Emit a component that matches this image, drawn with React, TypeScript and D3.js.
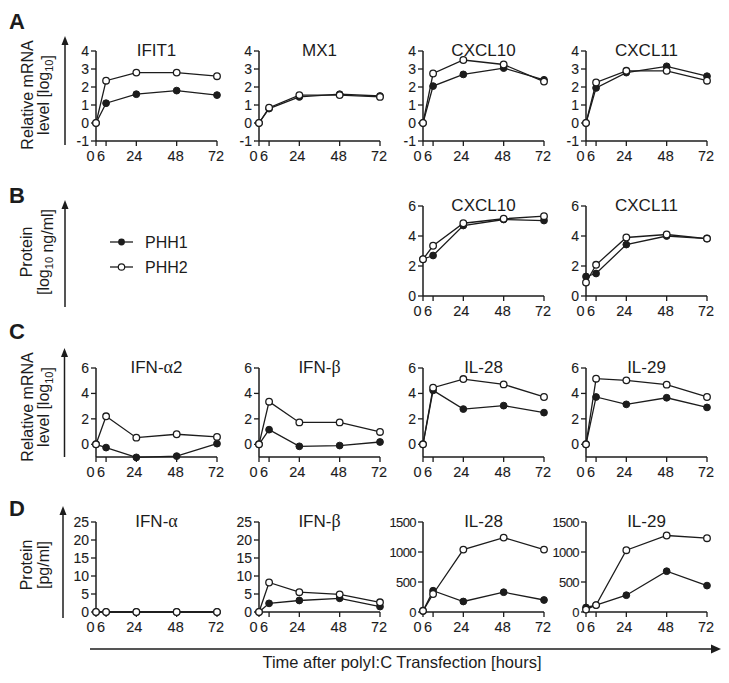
import React from "react";
import * as d3 from "d3";

const times = [0, 6, 24, 48, 72];
const xTickLabels = ["0", "6", "24", "48", "72"];

// Row A: relative mRNA [log10]
const ifit1PHH1 = [0, 1.1, 1.6, 1.8, 1.55];
const ifit1PHH2 = [0, 2.35, 2.8, 2.8, 2.6];
const mx1PHH1 = [0, 0.8, 1.45, 1.6, 1.5];
const mx1PHH2 = [0, 0.85, 1.55, 1.55, 1.45];
const cxcl10mPHH1 = [0, 2.05, 2.7, 3.05, 2.4];
const cxcl10mPHH2 = [0, 2.75, 3.5, 3.25, 2.3];
const cxcl11mPHH1 = [0, 1.95, 2.8, 3.15, 2.6];
const cxcl11mPHH2 = [0, 2.25, 2.9, 2.9, 2.35];

// Row B: protein [log10 ng/ml]
const cxcl10pPHH1 = [2.45, 2.7, 4.7, 5.1, 5.03];
const cxcl10pPHH2 = [2.45, 3.35, 4.85, 5.15, 5.32];
const cxcl11pPHH1 = [1.3, 1.5, 3.43, 4.0, 3.83];
const cxcl11pPHH2 = [0.9, 2.08, 3.9, 4.1, 3.83];

// Row C: relative mRNA [log10]
const ifna2PHH1 = [0, -0.26, -1.03, -0.93, 0.05];
const ifna2PHH2 = [0, 2.2, 0.52, 0.79, 0.58];
const ifnbmPHH1 = [0, 1.15, -0.16, -0.1, 0.18];
const ifnbmPHH2 = [0, 3.35, 1.72, 1.72, 0.97];
const il28mPHH1 = [0, 4.24, 2.77, 3.04, 2.49];
const il28mPHH2 = [0, 4.45, 5.13, 4.71, 3.72];
const il29mPHH1 = [0, 3.72, 3.14, 3.66, 2.9];
const il29mPHH2 = [0, 5.16, 5.03, 4.69, 3.72];

// Row D: protein [pg/ml]
const ifnaPPHH1 = [0, 0, 0, 0, 0];
const ifnaPPHH2 = [0, 0, 0, 0, 0];
const ifnbPPHH1 = [0, 2.4, 3.2, 3.8, 1.5];
const ifnbPPHH2 = [0, 8.2, 5.5, 4.9, 2.7];
const il28pPHH1 = [15, 355, 175, 330, 200];
const il28pPHH2 = [20, 300, 1040, 1240, 1040];
const il29pPHH1 = [75, 115, 280, 680, 440];
const il29pPHH2 = [40, 115, 1030, 1275, 1230];

const ticksA = [-1, 0, 1, 2, 3, 4];
const ticksB = [0, 2, 4, 6];
const ticksC = [0, 2, 4, 6];
const ticksD1 = [0, 5, 10, 15, 20, 25];
const ticksD2 = [0, 500, 1000, 1500];

type Panel = {
  row: number;
  col: number;
  title: string;
  greek?: string;
  p1: number[];
  p2: number[];
  domain: [number, number];
  ticks: number[];
  small?: boolean;
};

const panels: Panel[] = [
  { row: 0, col: 0, title: "IFIT1", p1: ifit1PHH1, p2: ifit1PHH2, domain: [-1, 4], ticks: ticksA },
  { row: 0, col: 1, title: "MX1", p1: mx1PHH1, p2: mx1PHH2, domain: [-1, 4], ticks: ticksA },
  { row: 0, col: 2, title: "CXCL10", p1: cxcl10mPHH1, p2: cxcl10mPHH2, domain: [-1, 4], ticks: ticksA },
  { row: 0, col: 3, title: "CXCL11", p1: cxcl11mPHH1, p2: cxcl11mPHH2, domain: [-1, 4], ticks: ticksA },
  { row: 1, col: 2, title: "CXCL10", p1: cxcl10pPHH1, p2: cxcl10pPHH2, domain: [0, 6], ticks: ticksB },
  { row: 1, col: 3, title: "CXCL11", p1: cxcl11pPHH1, p2: cxcl11pPHH2, domain: [0, 6], ticks: ticksB },
  { row: 2, col: 0, title: "IFN-", greek: "α2", p1: ifna2PHH1, p2: ifna2PHH2, domain: [-1, 6], ticks: ticksC },
  { row: 2, col: 1, title: "IFN-", greek: "β", p1: ifnbmPHH1, p2: ifnbmPHH2, domain: [-1, 6], ticks: ticksC },
  { row: 2, col: 2, title: "IL-28", p1: il28mPHH1, p2: il28mPHH2, domain: [-1, 6], ticks: ticksC },
  { row: 2, col: 3, title: "IL-29", p1: il29mPHH1, p2: il29mPHH2, domain: [-1, 6], ticks: ticksC },
  { row: 3, col: 0, title: "IFN-", greek: "α", p1: ifnaPPHH1, p2: ifnaPPHH2, domain: [0, 25], ticks: ticksD1 },
  { row: 3, col: 1, title: "IFN-", greek: "β", p1: ifnbPPHH1, p2: ifnbPPHH2, domain: [0, 25], ticks: ticksD1 },
  { row: 3, col: 2, title: "IL-28", p1: il28pPHH1, p2: il28pPHH2, domain: [0, 1500], ticks: ticksD2, small: true },
  { row: 3, col: 3, title: "IL-29", p1: il29pPHH1, p2: il29pPHH2, domain: [0, 1500], ticks: ticksD2, small: true },
];

const rowTop = [51, 206, 368, 522];
const rowBottom = [141, 296, 457, 612];
const colLeft = [96, 259, 423, 586];
const plotW = 121;
const INK = "#1c1c1c";
const FONT = "Liberation Sans, Arial, Helvetica, sans-serif";
const GREEK = "Liberation Serif, DejaVu Serif, serif";

function PlotPanel({ p }: { p: Panel }) {
  const x0 = colLeft[p.col];
  const top = rowTop[p.row];
  const bottom = rowBottom[p.row];
  const x = d3.scaleLinear().domain([0, 72]).range([x0, x0 + plotW]);
  const y = d3.scaleLinear().domain(p.domain).range([bottom, top]);
  const line = d3
    .line<number>()
    .x((_, i) => x(times[i]))
    .y((v) => y(v));
  const xOff = [-5.5, -5, -2, -1, -1];
  return (
    <g>
      <text
        x={x0 + plotW / 2}
        y={top + 5}
        textAnchor="middle"
        fontSize={17}
        fontFamily={FONT}
        fill={INK}
      >
        {p.title}
        {p.greek ? (
          <tspan fontFamily={GREEK} fontSize={18}>
            {p.greek.charAt(0)}
          </tspan>
        ) : null}
        {p.greek && p.greek.length > 1 ? <tspan>{p.greek.slice(1)}</tspan> : null}
      </text>
      {/* axes */}
      <line x1={x0} x2={x0} y1={bottom} y2={top} stroke={INK} strokeWidth={1.5} />
      <line x1={x0} x2={x0 + plotW} y1={bottom} y2={bottom} stroke={INK} strokeWidth={1.5} />
      {p.ticks.map((t) => (
        <g key={"y" + t}>
          <line x1={x0 - 5} x2={x0} y1={y(t)} y2={y(t)} stroke={INK} strokeWidth={1.3} />
          <text
            x={x0 - 7}
            y={y(t) + 5}
            textAnchor="end"
            fontSize={p.small ? 13 : 14}
            letterSpacing={p.small ? -0.6 : 0}
            fontFamily={FONT}
            fill={INK}
            stroke={INK}
            strokeWidth={0.1}
          >
            {t}
          </text>
        </g>
      ))}
      {times.map((t, i) => (
        <g key={"x" + t}>
          <line x1={x(t)} x2={x(t)} y1={bottom} y2={bottom + 5} stroke={INK} strokeWidth={1.3} />
          <text
            x={x(t) + xOff[i]}
            y={bottom + 20}
            textAnchor="middle"
            fontSize={14.5}
            fontFamily={FONT}
            fill={INK}
            stroke={INK}
            strokeWidth={0.1}
          >
            {xTickLabels[i]}
          </text>
        </g>
      ))}
      {/* series */}
      <path d={line(p.p1) || ""} fill="none" stroke={INK} strokeWidth={1.3} />
      <path d={line(p.p2) || ""} fill="none" stroke={INK} strokeWidth={1.3} />
      {p.p1.map((v, i) => (
        <circle key={"a" + i} cx={x(times[i])} cy={y(v)} r={3.4} fill={INK} stroke={INK} strokeWidth={1} />
      ))}
      {p.p2.map((v, i) => (
        <circle key={"b" + i} cx={x(times[i])} cy={y(v)} r={3.3} fill="#fff" stroke={INK} strokeWidth={1.3} />
      ))}
    </g>
  );
}

function VArrow({ x, y1, y2 }: { x: number; y1: number; y2: number }) {
  return (
    <g>
      <line x1={x} x2={x} y1={y1} y2={y2 + 6} stroke={INK} strokeWidth={1.5} />
      <path d={`M${x},${y2} L${x - 3.5},${y2 + 9} L${x + 3.5},${y2 + 9} Z`} fill={INK} />
    </g>
  );
}

function RotLabel({ x, y, children }: { x: number; y: number; children: React.ReactNode }) {
  return (
    <text
      transform={`translate(${x},${y}) rotate(-90)`}
      textAnchor="middle"
      fontSize={16}
      fontFamily={FONT}
      fill={INK}
    >
      {children}
    </text>
  );
}

const Sub = ({ t }: { t: string }) => (
  <>
    <tspan fontSize={11} dy={3.5}>
      {t}
    </tspan>
    <tspan dy={-3.5}></tspan>
  </>
);

export default function App() {
  return (
    <svg width={729} height={683} style={{ display: "block", position: "absolute", left: 0, top: 0 }}>
      <rect width={729} height={683} fill="#fff" />
      {/* panel letters */}
      {[
        ["A", 29],
        ["B", 203],
        ["C", 339],
        ["D", 516],
      ].map(([l, yy]) => (
        <text key={l as string} x={9} y={yy as number} fontSize={22} fontWeight="bold" fontFamily={FONT} fill={INK}>
          {l}
        </text>
      ))}

      {/* y-axis labels */}
      <VArrow x={65} y1={145} y2={36} />
      <RotLabel x={33} y={95}>Relative mRNA</RotLabel>
      <RotLabel x={49} y={95}>
        level [log<Sub t="10" />]
      </RotLabel>

      <VArrow x={65} y1={307} y2={200} />
      <RotLabel x={32} y={252}>Protein</RotLabel>
      <RotLabel x={49} y={252}>
        [log<Sub t="10" /> ng/ml]
      </RotLabel>

      <VArrow x={64.5} y1={457} y2={348} />
      <RotLabel x={33} y={407}>Relative mRNA</RotLabel>
      <RotLabel x={49} y={407}>
        level [log<Sub t="10" />]
      </RotLabel>

      <VArrow x={63} y1={618} y2={506} />
      <RotLabel x={32} y={565}>Protein</RotLabel>
      <RotLabel x={49} y={565}>[pg/ml]</RotLabel>

      {/* legend */}
      <g>
        <line x1={110} x2={133} y1={242} y2={242} stroke={INK} strokeWidth={1.3} />
        <circle cx={121.5} cy={242} r={3.4} fill={INK} />
        <text x={145} y={248} fontSize={16} fontFamily={FONT} fill={INK}>
          PHH1
        </text>
        <line x1={110} x2={133} y1={267} y2={267} stroke={INK} strokeWidth={1.3} />
        <circle cx={121.5} cy={267} r={3.2} fill="#fff" stroke={INK} strokeWidth={1.2} />
        <text x={145} y={273} fontSize={16} fontFamily={FONT} fill={INK}>
          PHH2
        </text>
      </g>

      {panels.map((p, i) => (
        <PlotPanel key={i} p={p} />
      ))}

      {/* bottom time arrow */}
      <line x1={90} x2={712} y1={649} y2={649} stroke={INK} strokeWidth={1.5} />
      <path d="M721,649 L711,644.5 L711,653.5 Z" fill={INK} />
      <text x={402} y={668} textAnchor="middle" fontSize={16.5} fontFamily={FONT} fill={INK}>
        Time after polyI:C Transfection [hours]
      </text>
    </svg>
  );
}
